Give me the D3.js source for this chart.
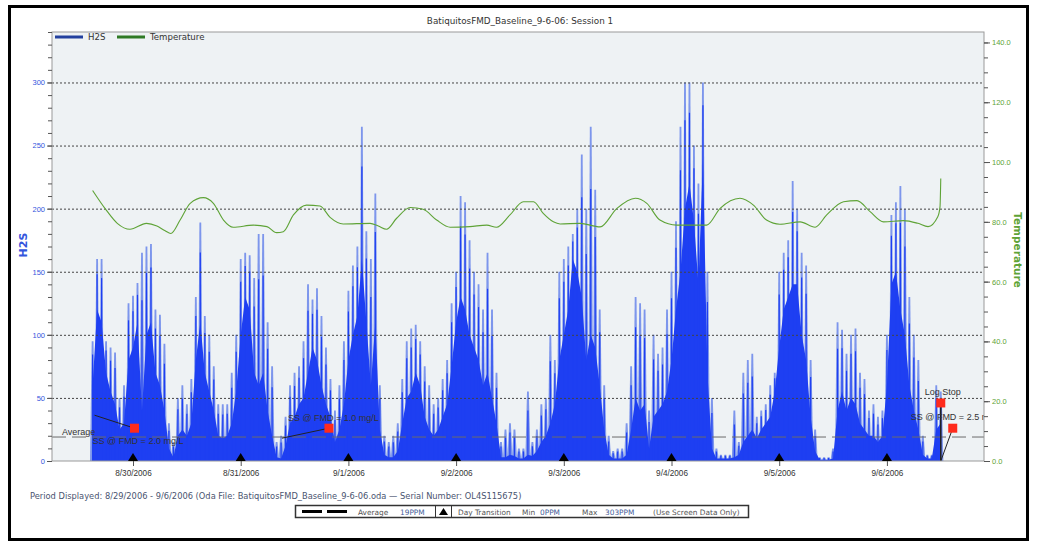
<!DOCTYPE html>
<html>
<head>
<meta charset="utf-8">
<script src="https://cdn.jsdelivr.net/npm/d3@7"></script>
<style>
  body { margin: 0; background: #fff; }
  svg { display: block; font-family: "DejaVu Sans", Verdana, sans-serif; }
</style>
</head>
<body>
<div id="chart"></div>
<script>
// ---- data ----
const title = "BatiquitosFMD_Baseline_9-6-06: Session 1";
const h2sStart = "8/29/2006 15:00";   // first hourly sample

// hourly H2S: tallest spike in the hour, and the dense level under it (ppm)
const h2sPeak = [
  95, 160, 160, 95, 90, 86, 50, 60, 125, 131, 141, 165, 170, 172, 120, 116, 93,                    // 8/29 15h - 8/30 7h
  30, 15, 50, 60, 45, 65, 130, 189, 115, 100, 75, 45, 45, 45, 70, 100, 160, 165, 163, 145, 180, 180, 110, 75,  // to 8/31 7h
  15, 20, 35, 60, 70, 75, 95, 140, 128, 137, 115, 90, 65, 40, 60, 95, 135, 155, 170, 265, 182, 160, 212, 60,   // to 9/1 7h
  20, 15, 20, 30, 65, 95, 105, 108, 95, 75, 60, 45, 50, 65, 80, 125, 150, 210, 205, 175, 150, 140, 120, 165,   // to 9/2 7h
  120, 70, 15, 25, 30, 25, 10, 10, 55, 15, 25, 45, 50, 100, 80, 150, 160, 170, 180, 200, 243, 200, 265, 215,   // to 9/3 7h
  120, 60, 20, 8, 10, 10, 30, 75, 130, 125, 120, 40, 100, 85, 90, 120, 150, 190, 265, 300, 300, 250, 220, 300, // to 9/4 7h
  150, 50, 10, 5, 5, 5, 40, 15, 70, 80, 85, 35, 40, 45, 60, 70, 150, 165, 175, 222, 200, 165, 155, 80,        // to 9/5 7h
  25, 3, 3, 3, 10, 110, 104, 85, 100, 105, 70, 65, 40, 45, 35, 40, 100, 195, 205, 218, 200, 130, 100, 80, 20, 5, 5, 60, 55 // to 9/6 12h
];
const h2sCore = [
  60, 120, 110, 70, 55, 45, 25, 30, 80, 90, 110, 40, 100, 110, 70, 60, 40,
  10, 3, 20, 25, 20, 30, 80, 110, 70, 55, 40, 20, 18, 20, 30, 55, 100, 130, 120, 70, 60, 70, 40, 20,
  3, 2, 12, 30, 35, 45, 50, 70, 90, 80, 60, 45, 35, 15, 25, 45, 80, 100, 115, 160, 110, 60, 110, 25,
  5, 3, 3, 8, 30, 50, 55, 70, 60, 35, 25, 20, 25, 35, 45, 75, 110, 130, 120, 100, 90, 80, 60, 70,
  50, 30, 3, 3, 5, 4, 2, 2, 5, 4, 8, 15, 20, 30, 45, 80, 100, 120, 160, 150, 130, 80, 100, 90,
  60, 25, 5, 2, 2, 2, 5, 25, 50, 40, 45, 10, 35, 40, 45, 55, 80, 120, 150, 200, 220, 190, 140, 240,
  70, 10, 2, 2, 2, 2, 3, 5, 15, 20, 25, 18, 25, 30, 35, 55, 90, 120, 130, 140, 140, 100, 80, 35,
  8, 1, 1, 1, 2, 40, 55, 40, 50, 45, 30, 25, 20, 20, 15, 20, 60, 140, 150, 120, 100, 60, 40, 25, 5, 2, 2, 25, 30
];

const tempTimes = [
  "8/29/2006 15:00", "8/29/2006 18:00", "8/29/2006 20:30", "8/29/2006 23:20", "8/30/2006 03:00",
  "8/30/2006 05:20", "8/30/2006 07:10", "8/30/2006 08:25", "8/30/2006 10:30", "8/30/2006 12:45",
  "8/30/2006 15:40", "8/30/2006 17:55", "8/30/2006 20:10", "8/30/2006 22:20", "8/31/2006 02:50",
  "8/31/2006 05:50", "8/31/2006 08:00", "8/31/2006 09:30", "8/31/2006 11:45", "8/31/2006 14:40",
  "8/31/2006 17:40", "8/31/2006 19:55", "8/31/2006 22:50", "9/1/2006 04:50", "9/1/2006 06:40",
  "9/1/2006 08:30", "9/1/2006 10:45", "9/1/2006 13:45", "9/1/2006 16:40", "9/1/2006 19:40",
  "9/1/2006 22:40", "9/2/2006 03:05", "9/2/2006 06:50", "9/2/2006 09:00", "9/2/2006 12:00",
  "9/2/2006 15:00", "9/2/2006 17:15", "9/2/2006 19:25", "9/2/2006 21:40", "9/2/2006 23:10",
  "9/3/2006 03:35", "9/3/2006 08:05", "9/3/2006 11:50", "9/3/2006 15:55", "9/3/2006 18:30",
  "9/3/2006 21:25", "9/4/2006 01:10", "9/4/2006 07:50", "9/4/2006 10:50", "9/4/2006 15:15",
  "9/4/2006 18:15", "9/4/2006 21:10", "9/5/2006 00:10", "9/5/2006 04:40", "9/5/2006 08:00",
  "9/5/2006 10:35", "9/5/2006 14:20", "9/5/2006 17:20", "9/5/2006 20:15", "9/5/2006 23:15",
  "9/6/2006 03:40", "9/6/2006 06:55", "9/6/2006 09:10", "9/6/2006 11:20", "9/6/2006 11:50",
  "9/6/2006 12:00"
];
const tempValues = [
  90.5, 84, 79.5, 77.5, 79.5, 78.6, 77, 76.1, 80.6, 86.2,
  88.1, 86.2, 80.6, 78.2, 78.9, 78.4, 76.4, 76.7, 82.3, 85.6,
  85.3, 81.5, 79.3, 79.5, 78.6, 77.5, 81.2, 84.8, 84.2, 80.6,
  78.2, 78.4, 78.9, 78.2, 82.3, 86.7, 86.7, 82.8, 80, 79.3,
  79.5, 78.3, 84.5, 87.9, 86.2, 80.6, 78.9, 78.9, 84.5, 87.9,
  85.6, 80.6, 79.2, 80, 78.2, 82.3, 86.7, 87.1, 83.4, 80,
  80.4, 79.5, 78.4, 81.7, 85.1, 94.5
];

const h2sTicks = [0, 50, 100, 150, 200, 250, 300];
const tempTicks = [0, 20, 40, 60, 80, 100, 120, 140];
const averagePPM = 19, minPPM = 0, maxPPM = 303;

// event markers: time, H2S level, label
const notes = [
  { time: "8/30/2006 00:20", ppm: 26, label: "SS @ FMD = 2.0 mg/L" },
  { time: "8/31/2006 19:40", ppm: 26, label: "SS @ FMD = 1.0 mg/L" },
  { time: "9/6/2006 12:00",  ppm: 46, label: "Log Stop" },
  { time: "9/6/2006 14:40",  ppm: 26, label: "SS @ FMD = 2.5 mg/L" }
];

// ---- layout ----
const W = 1043, H = 544;
const P = { left: 52, right: 984, top: 32, bottom: 461 };
const blueDark = "#1e3ff2", blueLight = "#7d96ec", green = "#5ea336";

const parse = d3.timeParse("%m/%d/%Y %H:%M");
const t0 = parse(h2sStart);
const h2s = h2sPeak.map((p, i) => ({ t: d3.timeHour.offset(t0, i), peak: p, core: h2sCore[i] }));
const temp = tempTimes.map((s, i) => ({ t: parse(s), v: tempValues[i] }));

const x = d3.scaleTime()
  .domain([parse("8/29/2006 05:57"), parse("9/6/2006 21:38")])
  .range([P.left, P.right]);
const yL = d3.scaleLinear().domain([0, 340]).range([P.bottom, P.top]);
const yR = d3.scaleLinear().domain([0, 143.5]).range([P.bottom, P.top]);

const svg = d3.select("#chart").append("svg").attr("width", W).attr("height", H);

// frame
svg.append("rect").attr("x", 9.5).attr("y", 6.5).attr("width", 1018).attr("height", 533)
  .attr("fill", "#fff").attr("stroke", "#000").attr("stroke-width", 3);

svg.append("text").attr("x", 520).attr("y", 24).attr("text-anchor", "middle")
  .attr("font-size", 8.8).attr("fill", "#333").text(title);

// plot area
svg.append("rect").attr("x", P.left).attr("y", P.top)
  .attr("width", P.right - P.left).attr("height", P.bottom - P.top)
  .attr("fill", "#eef2f4");

svg.append("clipPath").attr("id", "plot").append("rect")
  .attr("x", P.left).attr("y", P.top).attr("width", P.right - P.left).attr("height", P.bottom - P.top);

const g = svg.append("g").attr("clip-path", "url(#plot)");

// H2S: light spikes, then dense core
g.append("g").selectAll("path").data(h2s).join("path")
  .attr("fill", blueLight)
  .attr("d", d => {
    const cx = x(d.t), b = yL(0), top = yL(d.peak);
    return `M${cx - 2.6},${b}L${cx - 0.9},${top}L${cx + 0.9},${top}L${cx + 2.6},${b}Z`;
  });

g.append("path").datum(h2s)
  .attr("fill", blueDark)
  .attr("d", d3.area().x(d => x(d.t)).y0(yL(0)).y1(d => yL(d.core)));

g.append("g").selectAll("line").data(h2s).join("line")
  .attr("x1", d => x(d.t)).attr("x2", d => x(d.t))
  .attr("y1", yL(0)).attr("y2", d => yL(d.core + (d.peak - d.core) * 0.7))
  .attr("stroke", blueDark).attr("stroke-width", 1.2);

// grid on top of the bars
g.append("g").selectAll("line").data(h2sTicks.filter(d => d > 0)).join("line")
  .attr("x1", P.left).attr("x2", P.right)
  .attr("y1", d => yL(d) + 0.5).attr("y2", d => yL(d) + 0.5)
  .attr("stroke", "#444").attr("stroke-dasharray", "2,2");

g.append("line").attr("x1", P.left).attr("x2", P.right)
  .attr("y1", yL(averagePPM)).attr("y2", yL(averagePPM))
  .attr("stroke", "#6a6a6a").attr("stroke-dasharray", "14,6");

// temperature
g.append("path").datum(temp)
  .attr("fill", "none").attr("stroke", green).attr("stroke-width", 1.1)
  .attr("d", d3.line().x(d => x(d.t)).y(d => yR(d.v)).curve(d3.curveMonotoneX));

// annotations
const noteLayout = [
  { dx: -42, dy: 16, lx: -40, ly: -13 },
  { dx: -41, dy: -7, lx: -47, ly: 10 },
  { dx: -16, dy: -8, lx: 0, ly: 58 },
  { dx: -42, dy: -8, lx: -12, ly: 33 }
];
const ng = g.append("g");
notes.forEach((n, i) => {
  const cx = x(parse(n.time)), cy = yL(n.ppm), L = noteLayout[i];
  ng.append("line").attr("x1", cx).attr("y1", cy).attr("x2", cx + L.lx).attr("y2", cy + L.ly)
    .attr("stroke", "#222").attr("stroke-width", i === 2 ? 1.5 : 1);
  ng.append("text").attr("x", cx + L.dx).attr("y", cy + L.dy)
    .attr("font-family", "Liberation Sans, Arial, sans-serif")
    .attr("font-size", 9).attr("fill", "#333").text(n.label);
  ng.append("rect").attr("x", cx - 4.5).attr("y", cy - 4.5).attr("width", 9).attr("height", 9)
    .attr("fill", "#ff2b1c");
});
ng.append("text").attr("x", P.left + 10).attr("y", yL(averagePPM) - 2)
  .attr("font-family", "Liberation Sans, Arial, sans-serif")
  .attr("font-size", 9).attr("fill", "#333").text("Average");

// legend inside plot
const lg = svg.append("g");
[["H2S", "#22409e", 55], ["Temperature", "#2f7a25", 117]].forEach(([name, c, lx]) => {
  lg.append("line").attr("x1", lx).attr("x2", lx + 28).attr("y1", 37).attr("y2", 37)
    .attr("stroke", c).attr("stroke-width", 3);
  lg.append("text").attr("x", lx + 33).attr("y", 40).attr("font-size", 8.6).attr("fill", "#333").text(name);
});

svg.append("rect").attr("x", P.left).attr("y", P.top)
  .attr("width", P.right - P.left).attr("height", P.bottom - P.top)
  .attr("fill", "none").attr("stroke", "#9a9a9a");

// axes
const styleAxis = (sel, color, size) => {
  sel.select(".domain").remove();
  sel.selectAll("line").attr("stroke", "#555");
  sel.selectAll("text").attr("fill", color).attr("font-size", size);
};
svg.append("g").attr("transform", `translate(${P.left},0)`)
  .call(d3.axisLeft(yL).tickValues(d3.range(0, 341, 10)).tickSize(4).tickFormat(""))
  .call(s => styleAxis(s, "#3355dd", 7.5));
svg.append("g").attr("transform", `translate(${P.left},0)`)
  .call(d3.axisLeft(yL).tickValues(h2sTicks).tickSize(5).tickPadding(2))
  .call(s => styleAxis(s, "#3355dd", 7.5));

svg.append("g").attr("transform", `translate(${P.right},0)`)
  .call(d3.axisRight(yR).tickValues(d3.range(0, 143, 5)).tickSize(4).tickFormat(""))
  .call(s => styleAxis(s, green, 7.5));
svg.append("g").attr("transform", `translate(${P.right},0)`)
  .call(d3.axisRight(yR).tickValues(tempTicks).tickSize(6).tickPadding(2).tickFormat(d3.format(".1f")))
  .call(s => styleAxis(s, green, 7.5));

svg.append("g").attr("transform", `translate(0,${P.bottom})`)
  .call(d3.axisBottom(x).ticks(d3.timeDay.every(1)).tickSize(5).tickPadding(4)
    .tickFormat(d3.timeFormat("%-m/%-d/%Y")))
  .call(s => styleAxis(s, "#333", 8.2));

// day transition markers
const days = d3.timeDay.range(d3.timeDay.ceil(x.domain()[0]), x.domain()[1]);
svg.append("g").selectAll("path").data(days).join("path")
  .attr("d", d => `M${x(d) - 5},${P.bottom}L${x(d)},${P.bottom - 8}L${x(d) + 5},${P.bottom}Z`)
  .attr("fill", "#000");

// axis titles
svg.append("text").attr("transform", "translate(27,245) rotate(-90)")
  .attr("text-anchor", "middle").attr("font-size", 11).attr("font-weight", "bold")
  .attr("fill", "#3355dd").text("H2S");
svg.append("text").attr("transform", "translate(1014,250) rotate(90)")
  .attr("text-anchor", "middle").attr("font-size", 10.5).attr("font-weight", "bold")
  .attr("fill", green).text("Temperature");

// footer
svg.append("text").attr("x", 30).attr("y", 499).attr("font-size", 8.3).attr("fill", "#4a5470")
  .text("Period Displayed: 8/29/2006 - 9/6/2006  (Oda File: BatiquitosFMD_Baseline_9-6-06.oda  \u2014  Serial Number: OL4S115675)");

const fb = svg.append("g");
fb.append("rect").attr("x", 295.5).attr("y", 505.5).attr("width", 453).attr("height", 12)
  .attr("fill", "#fff").attr("stroke", "#333").attr("stroke-width", 1.5);
fb.append("line").attr("x1", 302).attr("x2", 348).attr("y1", 511.5).attr("y2", 511.5)
  .attr("stroke", "#000").attr("stroke-width", 3).attr("stroke-dasharray", "20,5");
fb.append("line").attr("x1", 435.5).attr("x2", 435.5).attr("y1", 505.5).attr("y2", 517.5).attr("stroke", "#333");
fb.append("line").attr("x1", 451.5).attr("x2", 451.5).attr("y1", 505.5).attr("y2", 517.5).attr("stroke", "#333");
fb.append("path").attr("d", "M439,515L443.5,508L448,515Z").attr("fill", "#000");
[["Average", 358, "#555"], [`${averagePPM}PPM`, 400, "#46609a"], ["Day Transition", 458, "#555"],
 ["Min", 522, "#555"], [`${minPPM}PPM`, 540, "#46609a"], ["Max", 582, "#555"],
 [`${maxPPM}PPM`, 605, "#46609a"], ["(Use Screen Data Only)", 653, "#555"]].forEach(([t, tx, c]) => {
  fb.append("text").attr("x", tx).attr("y", 514.5).attr("font-size", 7.4).attr("fill", c).text(t);
});
</script>
</body>
</html>
